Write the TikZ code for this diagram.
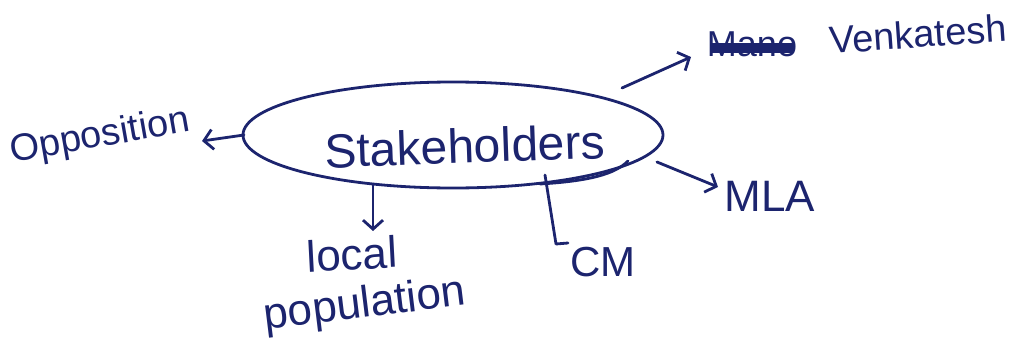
\documentclass[tikz,border=0pt]{standalone}
\usepackage{fontspec}
\setmainfont{Liberation Sans}
\usetikzlibrary{arrows.meta,shapes.geometric,calc}
\definecolor{ink}{RGB}{28,36,110}
\begin{document}
\begin{tikzpicture}[x=1pt,y=-1pt,
  lbl/.style={text=ink, inner sep=0pt},
  inkline/.style={draw=ink, line width=2.8pt, line cap=round, line join=round},
  arr/.style={inkline, -{Straight Barb[length=9pt,width=20pt,line width=2.8pt]}}]
\useasboundingbox (0,0) rectangle (1028,351);
% central loop
\node[inkline, ellipse, minimum width=420pt, minimum height=106pt, inner sep=0pt] (sh) at (453,135) {};
\draw[inkline] (540,184) .. controls (590,181) and (615,174) .. (628,161);
\node[lbl, font=\fontsize{48}{52}\selectfont, rotate=2] (shtxt) at (465,146) {Stakeholders};
% labels
\node[lbl, font=\fontsize{38}{42}\selectfont, rotate=10] (opp) at (100,137) {Opposition};
\node[lbl, font=\fontsize{36}{40}\selectfont] (mano) at (752,44) {Mano};
\node[lbl, font=\fontsize{38}{42}\selectfont, rotate=4] (ven) at (918,34) {Venkatesh};
\node[lbl, font=\fontsize{44}{48}\selectfont] (mla) at (770,196) {MLA};
\node[lbl, font=\fontsize{44}{48}\selectfont, rotate=3] (local) at (352,254) {local};
\node[lbl, font=\fontsize{44}{48}\selectfont, rotate=7] (pop) at (365,306) {population};
\node[lbl, font=\fontsize{42}{46}\selectfont] (cm) at (603,262) {CM};
% strike-out
\draw[ink, line width=10pt] ($(mano.west)+(4,4)$) -- ($(mano.east)+(-3,4)$);
% connector end points
\coordinate (aOpp1) at (244,135);
\coordinate (aOpp2) at (202,141);
\coordinate (aVen1) at (622,88);
\coordinate (aVen2) at (691,57);
\coordinate (aMla1) at (657,162);
\coordinate (aMla2) at (718,187);
\coordinate (aLoc1) at (373,184);
\coordinate (aLoc2) at (373,231);
\coordinate (aCm1) at (545,175);
\coordinate (aCm2) at (556,244);
\coordinate (aCm3) at (568,243);
% connectors
\draw[arr] (aOpp1) -- (aOpp2);
\draw[arr] (aVen1) -- (aVen2);
\draw[arr] (aMla1) -- (aMla2);
\draw[arr] (aLoc1) -- (aLoc2);
\draw[inkline] (aCm1) -- (aCm2) -- (aCm3);
\end{tikzpicture}
\end{document}
